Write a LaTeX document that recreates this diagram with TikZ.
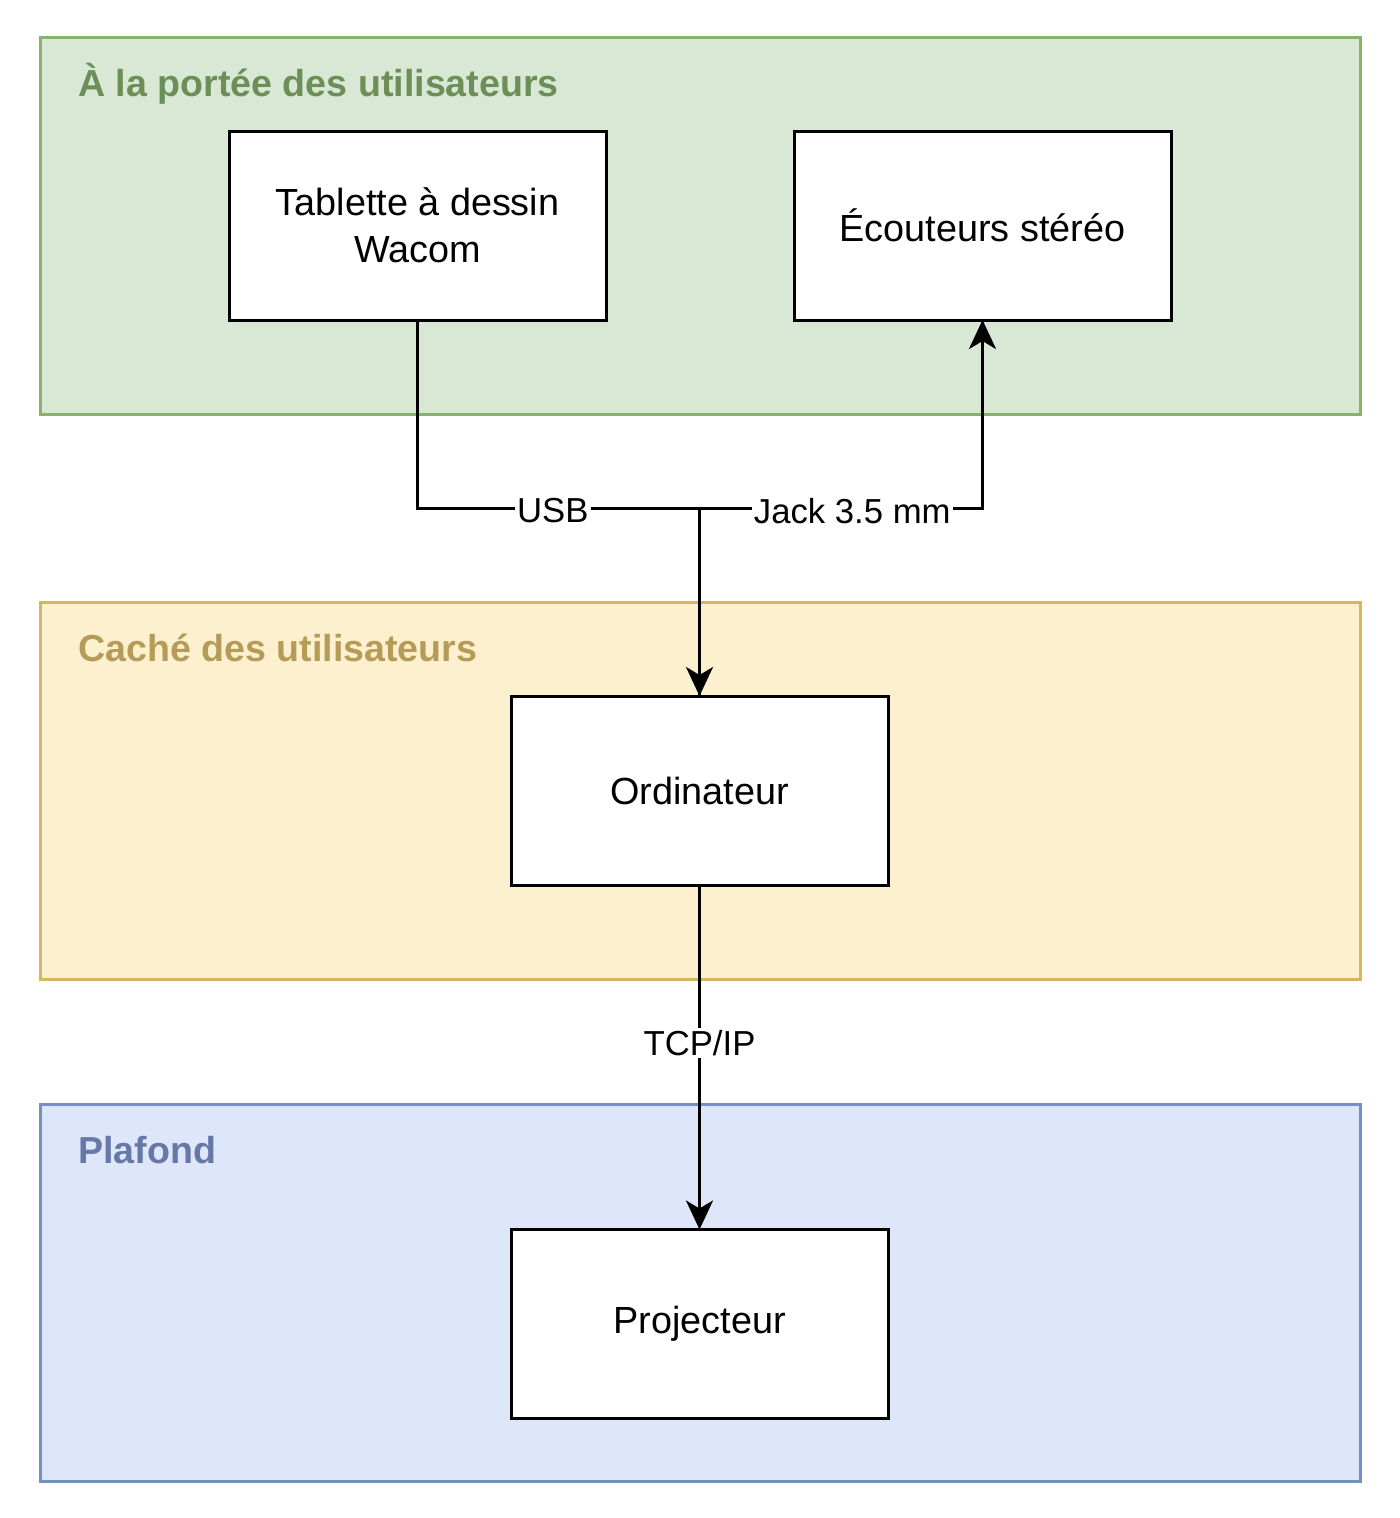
\documentclass[tikz,border=0pt]{standalone}
\usepackage{fontspec}
\setmainfont{Liberation Sans}
\usepackage{tikz}
\usetikzlibrary{arrows.meta}
\usepackage{xcolor}

\definecolor{reachfill}{HTML}{D9E7D5}
\definecolor{reachline}{HTML}{88B36F}
\definecolor{reachtext}{HTML}{6C8E57}
\definecolor{hiddenfill}{HTML}{FCF0CF}
\definecolor{hiddenline}{HTML}{D4B761}
\definecolor{hiddentext}{HTML}{B59B57}
\definecolor{ceilfill}{HTML}{DDE7F9}
\definecolor{ceilline}{HTML}{7490C2}
\definecolor{ceiltext}{HTML}{6678A6}

\begin{document}
\begin{tikzpicture}[
    x = 1pt, y = -1pt,
    zone/.style = {
        draw, line width = 3pt, inner sep = 0pt, outer sep = 0pt,
        minimum width = 1320pt, minimum height = 377pt
    },
    zone title/.style = {
        anchor = base west, inner sep = 0pt,
        font = \fontsize{37.6}{44}\selectfont\bfseries
    },
    device/.style = {
        draw, fill = white, line width = 3pt, outer sep = 0pt,
        minimum width = 377pt, minimum height = 189pt, align = center,
        font = \fontsize{37.8}{47}\selectfont
    },
    link/.style = {
        line width = 3pt,
        -{Stealth[length = 29pt, width = 27pt, inset = 8pt]}
    },
    link label/.style = {
        fill = white, inner sep = 2pt, yshift = -3pt,
        font = \fontsize{34.7}{40}\selectfont
    }
]
\useasboundingbox (0,0) rectangle (1400,1518);

% zones
\node[zone, fill = reachfill, draw = reachline] (reach) at (700,225.5) {};
\node[zone, fill = hiddenfill, draw = hiddenline] (hidden) at (700,790.5) {};
\node[zone, fill = ceilfill, draw = ceilline] (ceiling) at (700,1292.5) {};

\node[zone title, text = reachtext] (reach title) at (78,96) {À la portée des utilisateurs};
\node[zone title, text = hiddentext] (hidden title) at (78,661) {Caché des utilisateurs};
\node[zone title, text = ceiltext] (ceiling title) at (78,1163) {Plafond};

% devices
\node[device] (tablet) at (417.5,225.5) {Tablette à dessin\\Wacom};
\node[device] (phones) at (982.5,225.5) {Écouteurs stéréo};
\node[device] (computer) at (699.5,790.5) {Ordinateur};
\node[device] (projector) at (699.5,1324) {Projecteur};

% cables
\coordinate (hub) at (699.5,508);
\draw[link] (computer.north) -- (hub)
    -| node[link label, pos = 0.27] {Jack 3.5 mm} (phones.south);
\draw[link] (tablet.south) |- node[link label, pos = 0.74] {USB} (hub)
    -- (computer.north);
\draw[link] (computer.south) -- node[link label, pos = 0.45] {TCP/IP} (projector.north);

\end{tikzpicture}
\end{document}
